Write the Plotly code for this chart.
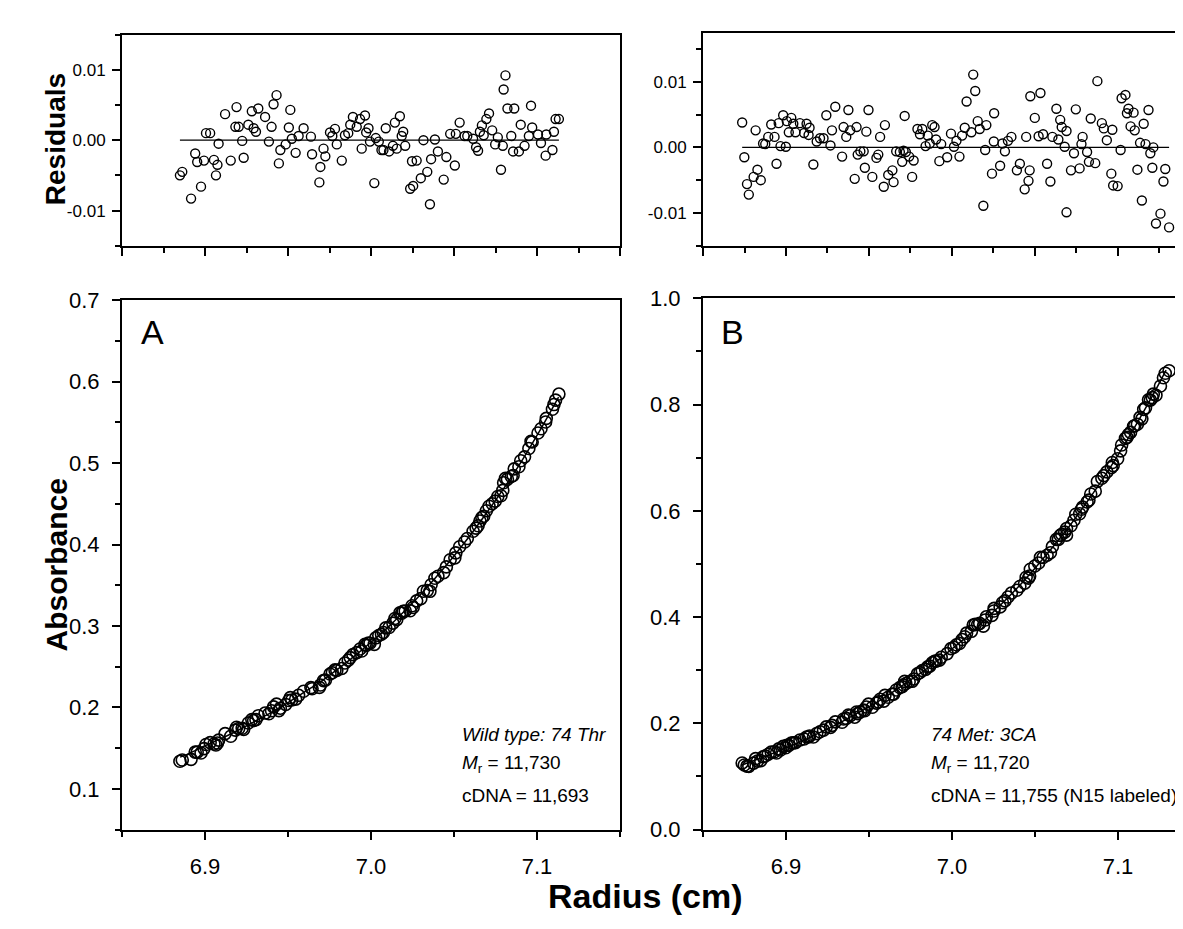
import plotly.graph_objects as go

###############################################################################
# Data

# residual panels (radius in cm, residual absorbance)
radius_a = [6.8849, 6.8863, 6.8916, 6.8941, 6.8953, 6.8976, 6.8994, 6.9006, 6.9031, 6.9054,
            6.9066, 6.9075, 6.9082, 6.9121, 6.9155, 6.9183, 6.9190, 6.9203, 6.9224, 6.9233,
            6.9261, 6.9282, 6.9293, 6.9307, 6.9321, 6.9362, 6.9385, 6.9401, 6.9413, 6.9431,
            6.9445, 6.9454, 6.9486, 6.9505, 6.9514, 6.9523, 6.9546, 6.9564, 6.9594, 6.9638,
            6.9645, 6.9689, 6.9695, 6.9714, 6.9725, 6.9753, 6.9767, 6.9783, 6.9794, 6.9824,
            6.9843, 6.9863, 6.9875, 6.9891, 6.9914, 6.9934, 6.9944, 6.9964, 6.9971, 6.9985,
            6.9994, 7.0020, 7.0029, 7.0047, 7.0063, 7.0075, 7.0089, 7.0109, 7.0132, 7.0144,
            7.0155, 7.0174, 7.0185, 7.0194, 7.0206, 7.0236, 7.0254, 7.0247, 7.0275, 7.0300,
            7.0316, 7.0339, 7.0355, 7.0362, 7.0385, 7.0403, 7.0438, 7.0454, 7.0477, 7.0505,
            7.0511, 7.0534, 7.0564, 7.0580, 7.0615, 7.0633, 7.0645, 7.0656, 7.0668, 7.0679,
            7.0695, 7.0711, 7.0730, 7.0748, 7.0764, 7.0783, 7.0794, 7.0799, 7.0810, 7.0822,
            7.0845, 7.0856, 7.0863, 7.0891, 7.0902, 7.0925, 7.0951, 7.0964, 7.0971, 7.1006,
            7.1024, 7.1052, 7.1056, 7.1093, 7.1102, 7.1112, 7.1132]
resid_a = [-0.0050, -0.0045, -0.0083, -0.0019, -0.0031, -0.0066, -0.0029, 0.0010, 0.0010, -0.0028,
           -0.0050, -0.0035, -0.0005, 0.0037, -0.0029, 0.0019, 0.0047, 0.0019, -0.0001, -0.0025,
           0.0022, 0.0041, 0.0017, 0.0012, 0.0045, 0.0033, -0.0002, 0.0019, 0.0051, 0.0064,
           -0.0033, -0.0014, -0.0006, 0.0018, 0.0043, 0.0002, -0.0018, 0.0006, 0.0017, 0.0005,
           -0.0020, -0.0060, -0.0038, -0.0012, -0.0023, 0.0011, 0.0006, 0.0016, -0.0006, -0.0029,
           0.0007, 0.0010, 0.0022, 0.0033, 0.0019, 0.0030, -0.0012, 0.0035, 0.0011, 0.0017,
           -0.0002, -0.0061, 0.0003, -0.0002, -0.0014, -0.0014, 0.0017, -0.0016, -0.0008, 0.0025,
           -0.0012, 0.0034, 0.0006, 0.0012, -0.0008, -0.0069, -0.0065, -0.0030, -0.0029, -0.0054,
           0.0000, -0.0045, -0.0091, -0.0027, 0.0001, -0.0016, -0.0056, -0.0024, 0.0009, -0.0036,
           0.0009, 0.0025, 0.0006, 0.0006, 0.0002, -0.0010, -0.0015, 0.0012, 0.0021, 0.0007,
           0.0030, 0.0038, 0.0014, -0.0006, 0.0004, -0.0042, -0.0008, 0.0072, 0.0092, 0.0045,
           0.0006, -0.0016, 0.0045, -0.0016, 0.0022, -0.0008, 0.0006, 0.0049, 0.0018, 0.0008,
           -0.0004, -0.0022, 0.0008, -0.0014, 0.0012, 0.0030, 0.0030]

radius_b = [6.8736, 6.8749, 6.8765, 6.8776, 6.8805, 6.8817, 6.8828, 6.8848, 6.8862, 6.8875,
            6.8893, 6.8911, 6.8931, 6.8943, 6.8956, 6.8967, 6.8983, 6.8999, 6.9005, 6.9017,
            6.9032, 6.9044, 6.9057, 6.9084, 6.9109, 6.9124, 6.9136, 6.9142, 6.9165, 6.9185,
            6.9205, 6.9226, 6.9243, 6.9268, 6.9277, 6.9297, 6.9338, 6.9347, 6.9363, 6.9376,
            6.9387, 6.9414, 6.9425, 6.9432, 6.9448, 6.9468, 6.9475, 6.9484, 6.9497, 6.9520,
            6.9545, 6.9556, 6.9567, 6.9589, 6.9596, 6.9616, 6.9641, 6.9648, 6.9664, 6.9686,
            6.9700, 6.9708, 6.9715, 6.9722, 6.9742, 6.9760, 6.9769, 6.9792, 6.9807, 6.9821,
            6.9841, 6.9854, 6.9866, 6.9881, 6.9895, 6.9904, 6.9924, 6.9935, 6.9971, 6.9994,
            7.0012, 7.0027, 7.0045, 7.0061, 7.0077, 7.0088, 7.0117, 7.0128, 7.0140, 7.0155,
            7.0167, 7.0189, 7.0200, 7.0207, 7.0241, 7.0254, 7.0252, 7.0290, 7.0304, 7.0319,
            7.0337, 7.0358, 7.0391, 7.0409, 7.0438, 7.0447, 7.0461, 7.0468, 7.0472, 7.0499,
            7.0522, 7.0533, 7.0549, 7.0573, 7.0593, 7.0605, 7.0629, 7.0641, 7.0652, 7.0661,
            7.0679, 7.0690, 7.0690, 7.0717, 7.0735, 7.0746, 7.0769, 7.0780, 7.0787, 7.0814,
            7.0825, 7.0836, 7.0863, 7.0876, 7.0903, 7.0915, 7.0933, 7.0960, 7.0966, 7.0971,
            7.0998, 7.1016, 7.1022, 7.1045, 7.1054, 7.1063, 7.1076, 7.1094, 7.1101, 7.1117,
            7.1133, 7.1144, 7.1155, 7.1166, 7.1184, 7.1195, 7.1207, 7.1213, 7.1229, 7.1256,
            7.1274, 7.1285, 7.1308]
resid_b = [0.0038, -0.0015, -0.0056, -0.0072, -0.0045, 0.0026, -0.0034, -0.0050, 0.0006, 0.0005,
           0.0016, 0.0035, 0.0016, -0.0025, 0.0037, 0.0002, 0.0049, 0.0001, 0.0040, 0.0023,
           0.0045, 0.0036, 0.0023, 0.0037, 0.0022, 0.0036, 0.0019, 0.0030, -0.0026, 0.0009,
           0.0014, 0.0014, 0.0049, 0.0003, 0.0026, 0.0062, -0.0014, 0.0031, 0.0016, 0.0057,
           0.0026, -0.0048, 0.0031, -0.0011, -0.0006, -0.0006, -0.0031, 0.0024, 0.0057, -0.0045,
           -0.0016, -0.0011, 0.0016, -0.0060, 0.0034, -0.0042, -0.0035, -0.0053, -0.0006, -0.0007,
           -0.0022, -0.0005, 0.0048, -0.0007, -0.0014, -0.0045, -0.0020, 0.0028, 0.0020, 0.0028,
           0.0002, 0.0018, 0.0006, 0.0034, 0.0031, 0.0012, -0.0021, 0.0005, -0.0015, 0.0021,
           0.0001, 0.0010, -0.0014, 0.0018, 0.0030, 0.0070, 0.0023, 0.0111, 0.0086, 0.0040,
           0.0028, -0.0089, -0.0004, 0.0034, -0.0040, 0.0052, 0.0009, -0.0028, 0.0006, -0.0006,
           0.0010, 0.0016, -0.0035, -0.0025, -0.0064, 0.0016, -0.0051, -0.0035, 0.0078, 0.0045,
           0.0017, 0.0083, 0.0020, -0.0025, -0.0052, 0.0016, 0.0059, 0.0012, 0.0042, 0.0031,
           0.0001, 0.0025, -0.0099, -0.0035, -0.0009, 0.0058, -0.0032, 0.0005, 0.0016, -0.0007,
           -0.0022, 0.0044, -0.0024, 0.0101, 0.0037, 0.0029, 0.0011, -0.0040, 0.0027, -0.0058,
           -0.0059, -0.0004, 0.0075, 0.0080, 0.0052, 0.0059, 0.0032, 0.0053, 0.0026, -0.0034,
           0.0007, -0.0081, 0.0036, 0.0005, 0.0057, -0.0009, -0.0031, 0.0000, -0.0116, -0.0101,
           -0.0052, -0.0033, -0.0122]

# absorbance at the same radii
abs_a = [0.1339, 0.1355, 0.1363, 0.1452, 0.1452, 0.1440, 0.1495, 0.1545, 0.1568, 0.1551,
         0.1539, 0.1563, 0.1599, 0.1678, 0.1646, 0.1722, 0.1757, 0.1742, 0.1745, 0.1731,
         0.1809, 0.1851, 0.1839, 0.1850, 0.1898, 0.1931, 0.1922, 0.1960, 0.2007, 0.2041,
         0.1961, 0.1991, 0.2037, 0.2085, 0.2121, 0.2092, 0.2102, 0.2149, 0.2199, 0.2244,
         0.2229, 0.2246, 0.2276, 0.2329, 0.2335, 0.2411, 0.2427, 0.2461, 0.2455, 0.2479,
         0.2546, 0.2581, 0.2612, 0.2649, 0.2673, 0.2718, 0.2693, 0.2774, 0.2762, 0.2792,
         0.2788, 0.2775, 0.2855, 0.2883, 0.2899, 0.2921, 0.2977, 0.2982, 0.3036, 0.3093,
         0.3078, 0.3162, 0.3156, 0.3180, 0.3185, 0.3187, 0.3228, 0.3249, 0.3309, 0.3336,
         0.3427, 0.3435, 0.3426, 0.3506, 0.3587, 0.3611, 0.3655, 0.3726, 0.3814, 0.3837,
         0.3898, 0.3973, 0.4032, 0.4074, 0.4164, 0.4202, 0.4231, 0.4289, 0.4331, 0.4348,
         0.4416, 0.4470, 0.4501, 0.4533, 0.4590, 0.4599, 0.4665, 0.4759, 0.4813, 0.4803,
         0.4836, 0.4848, 0.4930, 0.4956, 0.5029, 0.5077, 0.5179, 0.5267, 0.5259, 0.5370,
         0.5422, 0.5505, 0.5550, 0.5661, 0.5719, 0.5774, 0.5848]
abs_b = [0.1255, 0.1217, 0.1194, 0.1191, 0.1251, 0.1336, 0.1290, 0.1298, 0.1370, 0.1385,
         0.1418, 0.1459, 0.1466, 0.1441, 0.1520, 0.1499, 0.1567, 0.1540, 0.1587, 0.1585,
         0.1627, 0.1633, 0.1637, 0.1686, 0.1706, 0.1742, 0.1743, 0.1763, 0.1742, 0.1807,
         0.1842, 0.1873, 0.1934, 0.1925, 0.1962, 0.2028, 0.2021, 0.2081, 0.2093, 0.2156,
         0.2144, 0.2116, 0.2214, 0.2183, 0.2216, 0.2250, 0.2237, 0.2307, 0.2362, 0.2303,
         0.2380, 0.2405, 0.2453, 0.2419, 0.2526, 0.2492, 0.2551, 0.2548, 0.2628, 0.2674,
         0.2688, 0.2722, 0.2790, 0.2749, 0.2784, 0.2791, 0.2835, 0.2931, 0.2956, 0.2996,
         0.3016, 0.3062, 0.3078, 0.3140, 0.3170, 0.3172, 0.3189, 0.3243, 0.3313, 0.3406,
         0.3432, 0.3480, 0.3503, 0.3577, 0.3630, 0.3699, 0.3732, 0.3852, 0.3862, 0.3860,
         0.3882, 0.3829, 0.3946, 0.4005, 0.4033, 0.4164, 0.4115, 0.4192, 0.4269, 0.4305,
         0.4378, 0.4452, 0.4506, 0.4577, 0.4639, 0.4751, 0.4733, 0.4773, 0.4900, 0.4962,
         0.5018, 0.5125, 0.5121, 0.5165, 0.5212, 0.5326, 0.5462, 0.5462, 0.5535, 0.5559,
         0.5599, 0.5666, 0.5542, 0.5718, 0.5822, 0.5936, 0.5945, 0.6029, 0.6070, 0.6166,
         0.6201, 0.6316, 0.6370, 0.6553, 0.6612, 0.6663, 0.6733, 0.6814, 0.6910, 0.6850,
         0.6981, 0.7129, 0.7239, 0.7364, 0.7383, 0.7437, 0.7477, 0.7592, 0.7602, 0.7630,
         0.7759, 0.7731, 0.7909, 0.7938, 0.8089, 0.8084, 0.8130, 0.8197, 0.8175, 0.8349,
         0.8505, 0.8589, 0.8636]

# fitted curves
radius_fit_a = [6.885, 6.89, 6.90, 6.91, 6.92, 6.93, 6.94, 6.95, 6.96, 6.97, 6.98, 6.99, 7.00,
                7.01, 7.02, 7.03, 7.04, 7.05, 7.06, 7.07, 7.08, 7.09, 7.10, 7.11, 7.113]
fit_a = [0.139, 0.143, 0.153, 0.162, 0.172, 0.183, 0.194, 0.206, 0.219, 0.232, 0.247, 0.263, 0.280,
         0.298, 0.318, 0.339, 0.362, 0.386, 0.412, 0.440, 0.469, 0.500, 0.534, 0.570, 0.581]
radius_fit_b = [6.873, 6.88, 6.89, 6.90, 6.91, 6.92, 6.93, 6.94, 6.95, 6.96, 6.97, 6.98, 6.99,
                7.00, 7.01, 7.02, 7.03, 7.04, 7.05, 7.06, 7.07, 7.08, 7.09, 7.10, 7.11, 7.12, 7.129]
fit_b = [0.121, 0.129, 0.141, 0.154, 0.167, 0.182, 0.197, 0.214, 0.231, 0.250, 0.271, 0.292, 0.315,
         0.340, 0.366, 0.395, 0.425, 0.457, 0.492, 0.529, 0.568, 0.611, 0.656, 0.705, 0.757, 0.812, 0.865]

res_tickvals = [-0.01, 0.0, 0.01]
res_ticktext = ['-0.01', '0.00', '0.01']

label_a = ['<i>Wild type: 74 Thr</i>', '<i>M</i><sub>r</sub> = 11,730', 'cDNA = 11,693']
label_b = ['<i>74 Met: 3CA</i>', '<i>M</i><sub>r</sub> = 11,720', 'cDNA = 11,755 (N15 labeled)']

###############################################################################

W, H = 1183, 929
FONT = 'Liberation Sans, Arial, sans-serif'


def px(x):
    return x / W


def py(y):
    return 1 - y / H


def open_circle(size, width):
    return dict(symbol='circle-open', size=size, color='black', line=dict(width=width))


fig = go.Figure()

# residuals
fig.add_traces(go.Scatter(x=radius_a, y=resid_a, mode='markers', marker=open_circle(9, 1.4),
                          xaxis='x', yaxis='y'))
fig.add_traces(go.Scatter(x=[radius_a[0], radius_a[-1]], y=[0, 0], mode='lines',
                          line=dict(color='black', width=1.2), xaxis='x', yaxis='y'))
fig.add_traces(go.Scatter(x=radius_b, y=resid_b, mode='markers', marker=open_circle(9, 1.4),
                          xaxis='x2', yaxis='y2'))
fig.add_traces(go.Scatter(x=[radius_b[0], radius_b[-1]], y=[0, 0], mode='lines',
                          line=dict(color='black', width=1.2), xaxis='x2', yaxis='y2'))

# absorbance + fit
fig.add_traces(go.Scatter(x=radius_a, y=abs_a, mode='markers', marker=open_circle(12, 1.6),
                          xaxis='x3', yaxis='y3'))
fig.add_traces(go.Scatter(x=radius_fit_a, y=fit_a, mode='lines',
                          line=dict(color='black', width=1.5, shape='spline'), xaxis='x3', yaxis='y3'))
fig.add_traces(go.Scatter(x=radius_b, y=abs_b, mode='markers', marker=open_circle(12, 1.6),
                          xaxis='x4', yaxis='y4'))
fig.add_traces(go.Scatter(x=radius_fit_b, y=fit_b, mode='lines',
                          line=dict(color='black', width=1.5, shape='spline'), xaxis='x4', yaxis='y4'))

axis_common = dict(showline=True, linewidth=2, linecolor='black', showgrid=False, zeroline=False,
                   ticks='outside', ticklen=8, tickwidth=1.5, tickcolor='black')
minor_common = dict(ticks='outside', ticklen=5, tickwidth=1.5, tickcolor='black', showgrid=False)
small_font = dict(size=17, family=FONT, color='black')
big_font = dict(size=22, family=FONT, color='black')

dom_a = [px(114), px(612)]
dom_b = [px(695), 1.0]

fig.update_layout(
    xaxis=dict(domain=dom_a, range=[6.85, 7.15], anchor='y', mirror=True, tick0=6.85, dtick=0.05,
               showticklabels=False, minor=dict(dtick=0.025, tick0=6.85, **minor_common), **axis_common),
    yaxis=dict(domain=[py(232), py(15)], range=[-0.015, 0.015], anchor='x', mirror=True,
               tickvals=res_tickvals, ticktext=res_ticktext, ticklabelstandoff=3, tickfont=small_font,
               minor=dict(dtick=0.005, tick0=0, **minor_common), **axis_common),
    xaxis2=dict(domain=dom_b, range=[6.85, 7.144], anchor='y2', mirror=True, tick0=6.85, dtick=0.05,
                showticklabels=False, minor=dict(dtick=0.025, tick0=6.85, **minor_common), **axis_common),
    yaxis2=dict(domain=[py(232), py(13)], range=[-0.015, 0.0175], anchor='x2',
                tickvals=res_tickvals, ticktext=res_ticktext, ticklabelstandoff=3, tickfont=small_font,
                minor=dict(dtick=0.005, tick0=0, **minor_common), **axis_common),
    xaxis3=dict(domain=dom_a, range=[6.85, 7.15], anchor='y3', mirror=True, tick0=6.9, dtick=0.1,
                tickformat='.1f', tickfont=big_font, ticklabelstandoff=8,
                minor=dict(dtick=0.05, tick0=6.85, **minor_common), **axis_common),
    yaxis3=dict(domain=[py(832), py(288)], range=[0.05, 0.7], anchor='x3', mirror=True, tick0=0, dtick=0.1,
                tickformat='.1f', tickfont=big_font, ticklabelstandoff=8,
                minor=dict(dtick=0.05, tick0=0, **minor_common), **axis_common),
    xaxis4=dict(domain=dom_b, range=[6.85, 7.144], anchor='y4', mirror=True, tick0=6.9, dtick=0.1,
                tickformat='.1f', tickfont=big_font, ticklabelstandoff=8,
                minor=dict(dtick=0.05, tick0=6.85, **minor_common), **axis_common),
    yaxis4=dict(domain=[py(832), py(286)], range=[0, 1.0], anchor='x4', tick0=0, dtick=0.2,
                tickformat='.1f', tickfont=big_font, ticklabelstandoff=8,
                minor=dict(dtick=0.1, tick0=0, **minor_common), **axis_common),
)

annotations = [
    dict(text='<b>Residuals</b>', x=px(30), y=py(123), textangle=-90, font=dict(size=28)),
    dict(text='<b>Absorbance</b>', x=px(30), y=py(560), textangle=-90, font=dict(size=30)),
    dict(text='<b>Radius (cm)</b>', x=px(637), y=py(900), font=dict(size=34)),
    dict(text='A', x=px(131), y=py(321), xanchor='left', font=dict(size=34)),
    dict(text='B', x=px(711), y=py(321), xanchor='left', font=dict(size=34)),
]
line_y = [734, 765, 797]
for i, t in enumerate(label_a):
    annotations.append(dict(text=t, x=px(452), y=py(line_y[i]), xanchor='left', font=dict(size=19)))
for i, t in enumerate(label_b):
    annotations.append(dict(text=t, x=px(921), y=py(line_y[i]), xanchor='left', font=dict(size=19)))
for a in annotations:
    a.update(xref='paper', yref='paper', showarrow=False)
    a.setdefault('yanchor', 'middle')
    a['font'].update(family=FONT, color='black')

fig.update_layout(
    annotations=annotations,
    width=W, height=H,
    margin=dict(l=0, r=0, t=0, b=0),
    showlegend=False,
    plot_bgcolor='white',
    paper_bgcolor='white',
    font=dict(family=FONT, color='black'),
)

fig.write_html("out.html")
